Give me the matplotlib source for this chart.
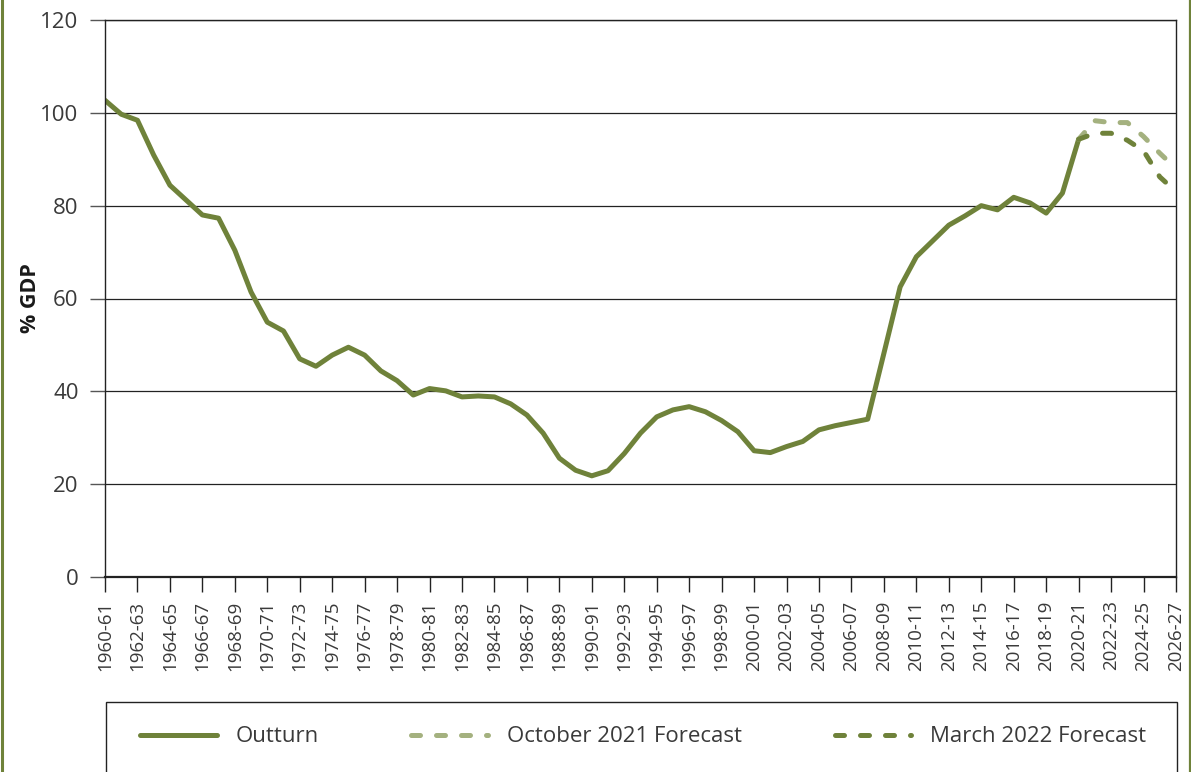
import numpy as np
import matplotlib
matplotlib.use("Agg")
from matplotlib import pyplot as plt
from matplotlib.patches import Rectangle
from matplotlib.lines import Line2D

plt.rcParams['font.family'] = ['Open Sans', 'DejaVu Sans']

# financial years 1960-61 .. 2026-27
years = ["%d-%02d" % (y, (y + 1) % 100) for y in range(1960, 2027)]

outturn = [102.7, 99.7, 98.4, 90.9, 84.4, 81.2, 78.0, 77.3, 70.4, 61.4,
           54.9, 53.0, 47.0, 45.4, 47.8, 49.5, 47.8, 44.4, 42.3, 39.2,
           40.6, 40.1, 38.8, 39.0, 38.8, 37.3, 34.9, 31.0, 25.6, 23.0,
           21.8, 22.9, 26.6, 31.0, 34.5, 36.0, 36.7, 35.6, 33.7, 31.3,
           27.2, 26.8, 28.1, 29.2, 31.7, 32.6, 33.3, 34.0, 48.2, 62.5,
           69.0, 72.4, 75.8, 77.8, 80.0, 79.1, 81.8, 80.6, 78.4, 82.7,
           94.3]
oct21 = [94.3, 98.3, 97.9, 97.9, 94.9, 91.3, 88.0]
mar22 = [94.3, 95.6, 95.6, 94.1, 91.8, 86.2, 83.0]

dark = '#6f823a'
light = '#a4b17f'
txt = '#3a3a3a'

W, H = 1191, 772
fig = plt.figure(figsize=(W / 100, H / 100), dpi=100)
ax = fig.add_axes([105 / W, 1 - 577 / H, (1176 - 105) / W, (577 - 20) / H])

x = np.arange(len(years))
n0 = len(outturn) - 1
l1, = ax.plot(x[:len(outturn)], outturn, color=dark, lw=3.6,
              solid_joinstyle='round', solid_capstyle='round', label='Outturn')
l2, = ax.plot(x[n0:n0 + len(oct21)], oct21, color=light, lw=3.6,
              linestyle=(0, (1.8, 3.2)), dash_capstyle='round',
              label='October 2021 Forecast')
l3, = ax.plot(x[n0:n0 + len(mar22)], mar22, color=dark, lw=3.6,
              linestyle=(0, (1.8, 3.2)), dash_capstyle='round',
              label='March 2022 Forecast')

ax.set_xlim(0, len(years) - 1)
ax.set_ylim(0, 120)
ax.set_yticks(range(0, 121, 20))
ax.yaxis.grid(True, color='#222222', lw=0.9)
ax.set_axisbelow(True)
ax.set_xticks(x[::2])
ax.set_xticklabels(years[::2], rotation=90, fontsize=13.5, color=txt)
ax.tick_params(axis='y', labelsize=16, labelcolor=txt, length=11,
               width=1, color='#555555', pad=8)
ax.tick_params(axis='x', length=11, width=1, color='#222222', pad=6)
for s in ax.spines.values():
    s.set_color('#222222')
    s.set_linewidth(1)
ax.spines['bottom'].set_linewidth(1.6)

fig.text(30 / W, 1 - 298 / H, '% GDP', rotation=90, fontsize=15.5,
         fontweight='bold', color='#1a1a1a', ha='center', va='center')

# legend box (runs off the bottom of the figure)
fig.add_artist(Rectangle((106 / W, -0.05), (1177 - 106) / W,
                         0.05 + 1 - 702 / H, transform=fig.transFigure,
                         fill=False, edgecolor='#222222', lw=1))
fig.legend(handles=[l1, l2, l3], loc='center left',
           bbox_to_anchor=(140 / W, 1 - 737 / H), ncol=3, frameon=False,
           borderpad=0, borderaxespad=0, fontsize=16, labelcolor=txt,
           handlelength=3.45, handletextpad=0.86, columnspacing=4.16)

# green page borders
fig.add_artist(Line2D([1.5 / W, 1.5 / W], [0, 1], transform=fig.transFigure,
                      color=dark, lw=2.2))
fig.add_artist(Line2D([1189.5 / W, 1189.5 / W], [0, 1],
                      transform=fig.transFigure, color=dark, lw=1.6))

fig.savefig('out.png', dpi=100)
